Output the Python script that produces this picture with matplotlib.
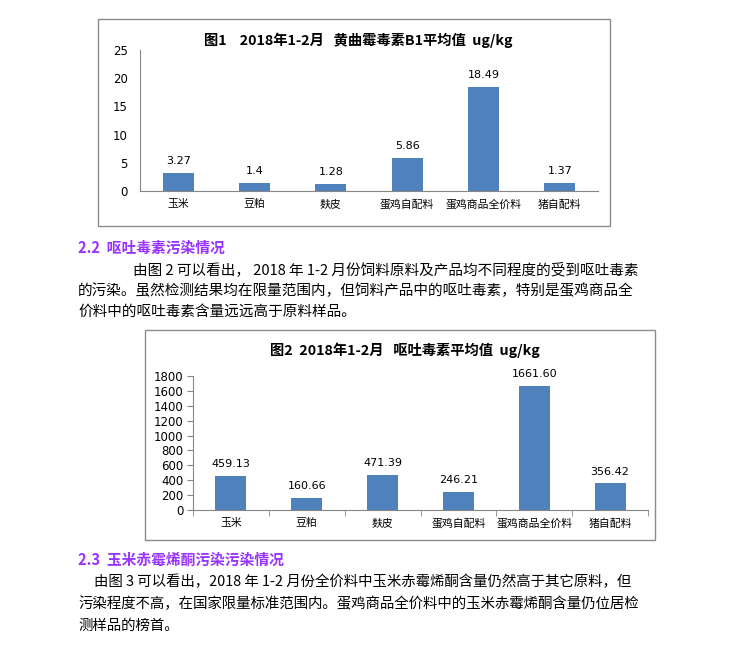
import matplotlib
matplotlib.use("Agg")
import matplotlib.pyplot as plt
from matplotlib.patches import Rectangle

plt.rcParams['font.family'] = ['Noto Sans CJK SC', 'DejaVu Sans']

W, H = 739, 648

categories = ["玉米", "豆粕", "麸皮", "蛋鸡自配料", "蛋鸡商品全价料", "猪自配料"]
afb1_values = [3.27, 1.4, 1.28, 5.86, 18.49, 1.37]
afb1_labels = ["3.27", "1.4", "1.28", "5.86", "18.49", "1.37"]
don_values = [459.13, 160.66, 471.39, 246.21, 1661.60, 356.42]
don_labels = ["459.13", "160.66", "471.39", "246.21", "1661.60", "356.42"]

title1 = "图1    2018年1-2月   黄曲霉毒素B1平均值  ug/kg"
title2 = "图2  2018年1-2月   呕吐毒素平均值  ug/kg"

head22 = "2.2  呕吐毒素污染情况"
para22 = ["由图 2 可以看出， 2018 年 1-2 月份饲料原料及产品均不同程度的受到呕吐毒素",
          "的污染。虽然检测结果均在限量范围内，但饲料产品中的呕吐毒素，特别是蛋鸡商品全",
          "价料中的呕吐毒素含量远远高于原料样品。"]
head23 = "2.3  玉米赤霉烯酮污染污染情况"
para23 = ["由图 3 可以看出，2018 年 1-2 月份全价料中玉米赤霉烯酮含量仍然高于其它原料，但",
          "污染程度不高，在国家限量标准范围内。蛋鸡商品全价料中的玉米赤霉烯酮含量仍位居检",
          "测样品的榜首。"]

BAR = "#4F81BD"
AXC = "#868686"
PURPLE = "#9933FF"


def px_axes(fig, x0, y0, x1, y1):
    return fig.add_axes([x0 / W, 1 - y1 / H, (x1 - x0) / W, (y1 - y0) / H])


def box(fig, x0, y0, x1, y1):
    fig.patches.append(Rectangle((x0 / W, 1 - y1 / H), (x1 - x0) / W, (y1 - y0) / H,
                                 transform=fig.transFigure, fill=False,
                                 edgecolor="#8c8c8c", lw=1.0))


def bar_chart(ax, values, labels, ymax, ystep, ticks=True):
    x = range(len(values))
    ax.bar(x, values, width=0.41, color=BAR, zorder=2)
    for xi, v, lab in zip(x, values, labels):
        ax.annotate(lab, (xi, v), xytext=(0, 5), textcoords="offset points",
                    ha="center", va="bottom", fontsize=8, family="DejaVu Sans")
    ax.set_xlim(-0.5, len(values) - 0.5)
    ax.set_ylim(0, ymax)
    ax.set_yticks(range(0, ymax + 1, ystep))
    ax.set_xticks(list(x))
    ax.set_xticklabels(categories, fontsize=7.8)
    ax.set_xticks([i - 0.5 for i in range(len(values) + 1)], minor=True)
    tl = 4 if ticks else 0
    ax.tick_params(axis="x", which="major", length=0, pad=6)
    ax.tick_params(axis="x", which="minor", length=tl, color=AXC)
    ax.tick_params(axis="y", length=tl, color=AXC, labelsize=8.5,
                   pad=3 if ticks else 9)
    for lab in ax.get_yticklabels():
        lab.set_family("DejaVu Sans")
    for s in ("top", "right"):
        ax.spines[s].set_visible(False)
    for s in ("left", "bottom"):
        ax.spines[s].set_color(AXC)
        ax.spines[s].set_linewidth(0.8)
    ax.set_facecolor("none")


fig = plt.figure(figsize=(W / 100, H / 100), dpi=100)

# chart 1
box(fig, 98, 19, 610, 226)
ax1 = px_axes(fig, 140, 50, 598, 191)
bar_chart(ax1, afb1_values, afb1_labels, 25, 5, ticks=False)
fig.text(358 / W, 1 - 40 / H, title1, ha="center", va="center",
         fontsize=10.3, fontweight="bold")

# chart 2
box(fig, 145, 330, 655, 540)
ax2 = px_axes(fig, 193, 376, 648, 510)
bar_chart(ax2, don_values, don_labels, 1800, 200)
fig.text(405 / W, 1 - 350 / H, title2, ha="center", va="center",
         fontsize=10.3, fontweight="bold")

# body text
fig.text(78 / W, 1 - 248 / H, head22, ha="left", va="center",
         fontsize=10.6, fontweight="bold", color=PURPLE)
for i, line in enumerate(para22):
    x0 = 133 if i == 0 else 78
    fig.text(x0 / W, 1 - (270 + 21 * i) / H, line, ha="left", va="center",
             fontsize=10.5)

fig.text(78 / W, 1 - 560 / H, head23, ha="left", va="center",
         fontsize=10.6, fontweight="bold", color=PURPLE)
for i, line in enumerate(para23):
    x0 = 94 if i == 0 else 78
    fig.text(x0 / W, 1 - (582 + 22 * i) / H, line, ha="left", va="center",
             fontsize=10.4)

fig.savefig("out.png", dpi=100, facecolor="white")
